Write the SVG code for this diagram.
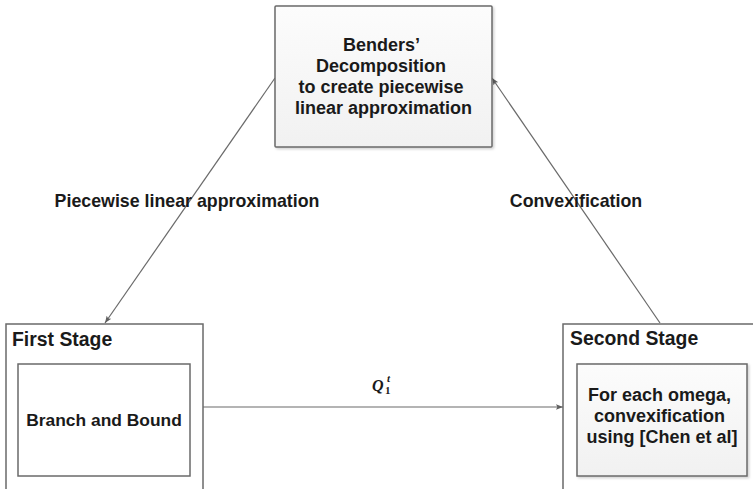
<svg xmlns="http://www.w3.org/2000/svg" width="753" height="489" viewBox="0 0 753 489">
  <defs>
    <linearGradient id="boxFill" x1="0" y1="0" x2="0" y2="1">
      <stop offset="0" stop-color="#fcfcfc"/>
      <stop offset="1" stop-color="#f1f1f1"/>
    </linearGradient>
    <filter id="shadow" x="-10%" y="-10%" width="120%" height="120%">
      <feDropShadow dx="1.5" dy="1.5" stdDeviation="1.2" flood-color="#000" flood-opacity="0.18"/>
    </filter>
    <marker id="arrow" viewBox="0 0 10 10" refX="10" refY="5" markerWidth="7" markerHeight="7" orient="auto" markerUnits="userSpaceOnUse">
      <path d="M0,1 L10,5 L0,9 L2,5 Z" fill="#5f5f5f"/>
    </marker>
  </defs>
  <style>
    .box { fill: url(#boxFill); stroke: #6a6a6a; stroke-width: 1.5; filter: url(#shadow); }
    .outer { fill: #ffffff; stroke: #6a6a6a; stroke-width: 1.5; }
    .t { font-family: "Liberation Sans", Arial, sans-serif; font-weight: bold; fill: #1a1a1a; }
    .mid { text-anchor: middle; }
    .edge { stroke: #6a6a6a; stroke-width: 1.2; fill: none; marker-end: url(#arrow); }
    .math { font-family: "Liberation Serif", "DejaVu Serif", serif; font-weight: bold; fill: #1a1a1a; }
    .it { font-style: italic; }
  </style>

  <rect width="753" height="489" fill="#ffffff"/>

  <!-- connectors -->
  <g id="connectors">
    <line class="edge" x1="275" y1="78" x2="105" y2="323"/>
    <line class="edge" x1="660" y1="323" x2="492" y2="78"/>
    <line class="edge" x1="203" y1="407" x2="563" y2="407"/>
    <text class="t mid" x="187" y="207" font-size="17.8">Piecewise linear approximation</text>
    <text class="t mid" x="576" y="207" font-size="17.8">Convexification</text>
    <g id="q-label">
      <text class="math it" x="372" y="391" font-size="16">Q</text>
      <text class="math it" x="387" y="382" font-size="11">t</text>
      <text class="math" x="385" y="394" font-size="11">1</text>
    </g>
  </g>

  <!-- Benders' decomposition node -->
  <g id="benders">
    <rect class="box" x="275" y="6" width="217" height="141" rx="1"/>
    <text class="t mid" font-size="18">
      <tspan x="383.5" y="50.5">Benders’</tspan>
      <tspan x="383.5" y="71.5">Decomposition</tspan>
      <tspan x="383.5" y="92.5">to create piecewise</tspan>
      <tspan x="383.5" y="113.5">linear approximation</tspan>
    </text>
  </g>

  <!-- first stage container -->
  <g id="first-stage">
    <rect class="outer" x="6" y="324" width="197" height="180"/>
    <text class="t" x="12" y="346" font-size="19.4">First Stage</text>
    <g id="branch-and-bound">
      <rect class="outer" x="18" y="364" width="172" height="112"/>
      <text class="t mid" x="104" y="426" font-size="17.4">Branch and Bound</text>
    </g>
  </g>

  <!-- second stage container -->
  <g id="second-stage">
    <rect class="outer" x="563" y="324" width="200" height="180"/>
    <text class="t" x="570" y="345" font-size="19.4">Second Stage</text>
    <g id="convexification-box">
      <rect class="box" x="577" y="364" width="170" height="112"/>
      <text class="t mid" font-size="18">
        <tspan x="662" y="401">For each omega,</tspan>
        <tspan x="662" y="422">convexification</tspan>
        <tspan x="662" y="443">using [Chen et al]</tspan>
      </text>
    </g>
  </g>
</svg>
